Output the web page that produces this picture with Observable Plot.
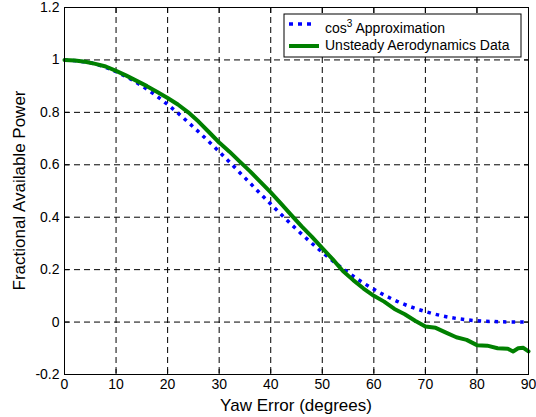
<!DOCTYPE html>
<html>
<head>
<meta charset="utf-8">
<script src="https://cdn.jsdelivr.net/npm/d3@7"></script>
<script src="https://cdn.jsdelivr.net/npm/@observablehq/plot@0.6"></script>
<style>
  html, body { margin: 0; padding: 0; background: #fff; }
  svg { display: block; }
</style>
</head>
<body>
<div id="chart"></div>
<script>
// ---- data ----
const cosX = [0, 5, 10, 15, 20, 25, 30, 35, 40, 45, 50, 55, 60, 65, 70, 75, 80, 85, 90];
const cosY = [1.0, 0.989, 0.955, 0.901, 0.830, 0.744, 0.650, 0.550, 0.450, 0.354, 0.266, 0.189, 0.125, 0.075, 0.040, 0.017, 0.005, 0.001, 0.0];

const dataX = [0, 2, 4, 6, 8, 10, 12, 14, 16, 18, 20, 22, 24, 26, 28, 30, 32, 34, 36, 38, 40, 42, 44, 46, 48, 50,
               52, 54, 56, 58, 60, 62, 64, 66, 68, 70, 72, 74, 76, 78, 80, 82, 84, 86, 87, 88, 89, 90];
const dataY = [1.0, 0.998, 0.993, 0.985, 0.975, 0.958, 0.940, 0.920, 0.900, 0.878, 0.855, 0.830, 0.800, 0.765, 0.725,
               0.685, 0.650, 0.612, 0.575, 0.535, 0.495, 0.452, 0.408, 0.365, 0.325, 0.282, 0.240, 0.195, 0.160, 0.128,
               0.100, 0.078, 0.050, 0.030, 0.005, -0.017, -0.022, -0.040, -0.058, -0.068, -0.088, -0.090, -0.100, -0.102,
               -0.112, -0.100, -0.098, -0.112];

const xTicks = [0, 10, 20, 30, 40, 50, 60, 70, 80, 90];
const yTicks = [-0.2, 0, 0.2, 0.4, 0.6, 0.8, 1, 1.2];
// legend names as [base, superscript, rest]
const seriesNames = [["cos", "3", " Approximation"], ["Unsteady Aerodynamics Data", "", ""]];
const xLabel = "Yaw Error (degrees)";
const yLabel = "Fractional Available Power";

const cosData = cosX.map((x, i) => ({x, y: cosY[i]}));
const expData = dataX.map((x, i) => ({x, y: dataY[i]}));

const FONT = "Liberation Sans, Arial, sans-serif";
const W = 536, H = 417;
const mL = 64, mR = 8, mT = 7, mB = 43;

const plot = Plot.plot({
  width: W, height: H,
  marginLeft: mL, marginRight: mR, marginTop: mT, marginBottom: mB,
  style: {fontFamily: FONT, fontSize: "14px", color: "black", background: "white", overflow: "visible"},
  x: {domain: [0, 90]},
  y: {domain: [-0.2, 1.2]},
  marks: [
    Plot.gridX(xTicks, {stroke: "black", strokeOpacity: 1, strokeWidth: 1, strokeDasharray: "6,4"}),
    Plot.gridY(yTicks, {stroke: "black", strokeOpacity: 1, strokeWidth: 1, strokeDasharray: "6,4"}),
    Plot.axisX(xTicks, {anchor: "bottom", tickSize: 0, tickPadding: 5, label: null, tickFormat: d => String(d), fontSize: 14}),
    Plot.axisX(xTicks, {anchor: "bottom", tickSize: -5, text: null, label: null}),
    Plot.axisX(xTicks, {anchor: "top", tickSize: -5, text: null, label: null}),
    Plot.axisY(yTicks, {anchor: "left", tickSize: 0, tickPadding: 5, label: null, tickFormat: d => String(+d.toFixed(1)), fontSize: 14}),
    Plot.axisY(yTicks, {anchor: "left", tickSize: -5, text: null, label: null}),
    Plot.axisY(yTicks, {anchor: "right", tickSize: -5, text: null, label: null}),
    Plot.line(cosData, {x: "x", y: "y", stroke: "#0000ff", strokeWidth: 3.5, strokeDasharray: "3.5,5", strokeLinecap: "butt", curve: "catmull-rom"}),
    Plot.line(expData, {x: "x", y: "y", stroke: "#008000", strokeWidth: 4, curve: "linear", strokeLinejoin: "round"}),
    Plot.frame({stroke: "black", strokeWidth: 1})
  ]
});

document.getElementById("chart").appendChild(plot);

// axis titles & legend
const svg = d3.select(plot);
const xs = plot.scale("x"), ys = plot.scale("y");
const frameL = xs.range[0], frameR = xs.range[1];
const frameB = ys.range[0], frameT = ys.range[1];

svg.append("text")
  .attr("x", (frameL + frameR) / 2).attr("y", H - 6)
  .attr("text-anchor", "middle").attr("font-family", FONT).attr("font-size", 17).attr("fill", "black")
  .text(xLabel);

svg.append("text")
  .attr("transform", `translate(25,${(frameT + frameB) / 2}) rotate(-90)`)
  .attr("text-anchor", "middle").attr("font-family", FONT).attr("font-size", 17).attr("fill", "black")
  .text(yLabel);

const lg = svg.append("g").attr("transform", `translate(${frameR - 244},${frameT + 7})`);
lg.append("rect").attr("width", 237).attr("height", 43).attr("fill", "white").attr("stroke", "black").attr("stroke-width", 1);
const styles = [
  {stroke: "#0000ff", dash: "4,5", w: 3.5, x2: 28},
  {stroke: "#008000", dash: null, w: 4, x2: 35}
];
seriesNames.forEach(([base, sup, rest], i) => {
  const yy = 10 + i * 22;
  lg.append("line").attr("x1", 5).attr("x2", styles[i].x2).attr("y1", yy).attr("y2", yy)
    .attr("stroke", styles[i].stroke).attr("stroke-width", styles[i].w)
    .attr("stroke-dasharray", styles[i].dash);
  const t = lg.append("text").attr("x", 41).attr("y", 19 + i * 17)
    .attr("text-anchor", "start")
    .attr("font-family", FONT).attr("font-size", 14).attr("fill", "black");
  t.append("tspan").text(base);
  if (sup) {
    t.append("tspan").attr("font-size", 10).attr("dy", -6).text(sup);
    t.append("tspan").attr("dy", 6).text(rest);
  }
});
</script>
</body>
</html>
